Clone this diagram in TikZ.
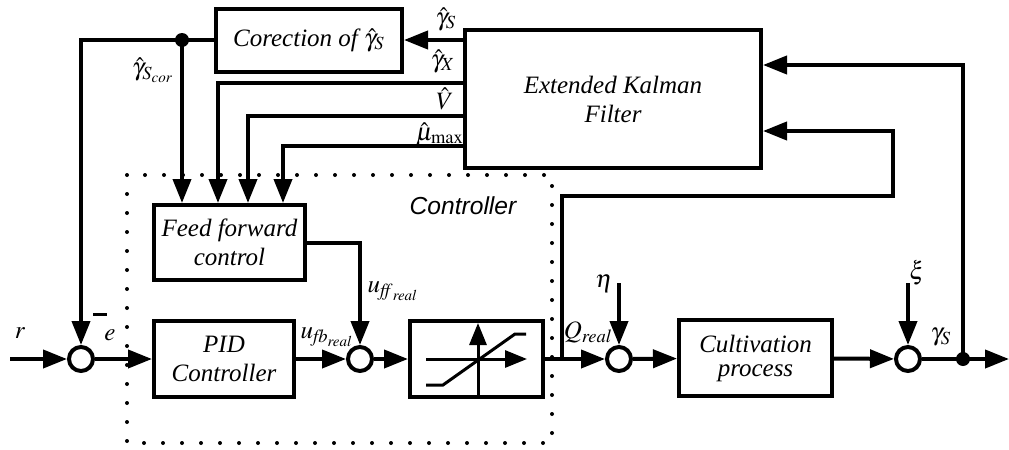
\documentclass[tikz,border=0pt]{standalone}
\usepackage{mathptmx}
\usepackage{fontspec}
\setmainfont{Liberation Serif}
\newfontfamily\arialfont{Liberation Sans}
\usetikzlibrary{arrows.meta}
\begin{document}
\begin{tikzpicture}[x=0.5pt,y=-0.5pt,
  line width=2pt,
  blk/.style={draw, line width=2pt, font=\itshape\fontsize{12.5}{14.5}\selectfont, align=center, inner sep=0pt},
  sumc/.style={draw, circle, line width=2pt, minimum size=12pt, inner sep=0pt},
  dotn/.style={circle, fill, minimum size=7pt, inner sep=0pt},
  arr/.style={-{Triangle[length=12pt,width=9pt]}},
  sarr/.style={-{Triangle[length=11pt,width=8.5pt]}},
  lbl/.style={font=\fontsize{12.5}{14}\selectfont, inner sep=0pt}]
\useasboundingbox (0,0) rectangle (1009,450);

% dotted controller frame
\draw[line width=2pt, line cap=round, dash pattern=on 0pt off 9.5pt] (127,175) rectangle (552,443);
\node[font=\arialfont\itshape\fontsize{12.3}{14}\selectfont, inner sep=0pt] (ctl) at (463,206) {Controller};

% blocks
\node[blk, minimum width=93pt, minimum height=31.5pt] (corr) at (309,40) {Corection of $\hat{\gamma}_S$};
\node[blk, minimum width=148pt, minimum height=69pt] (ekf) at (613,99) {Extended Kalman\\Filter};
\node[blk, minimum width=75.5pt, minimum height=37.5pt] (ff) at (229.5,242.5) {Feed forward\\control};
\node[blk, minimum width=70pt, minimum height=38pt] (pid) at (224,359) {PID\\Controller};
\node[blk, minimum width=66.5pt, minimum height=38pt] (sat) at (476.5,359) {};
\node[blk, minimum width=76.5pt, minimum height=38pt, font=\itshape\fontsize{12.5}{12}\selectfont] (cult) at (755.5,358) {Cultivation\\process};

% summing junctions and dots
\node[sumc] (sum1) at (81,359) {};
\node[sumc] (sum2) at (360,359) {};
\node[sumc] (sum3) at (619,359) {};
\node[sumc] (sum4) at (908,359) {};
\node[dotn] (d1) at (182,40) {};
\node[dotn] (d2) at (963,359) {};

% helper coordinates
\coordinate (in) at (10,359);
\coordinate (out) at (1009,359);
\coordinate (br) at (562,359);
\coordinate (c7) at (893,196);
\coordinate (eta) at (619,283);
\coordinate (xi) at (908,283);
\coordinate (y40) at (0,40);
\coordinate (y65) at (0,65);
\coordinate (y83) at (0,83);
\coordinate (y116) at (0,116);
\coordinate (y131) at (0,131);
\coordinate (y146) at (0,146);
\coordinate (f2) at (218,0);
\coordinate (f3) at (248,0);
\coordinate (f4) at (283,0);

% saturation icon
\draw[line width=1.5pt, sarr] (478,398) -- (478,323);
\draw[line width=1.5pt, sarr] (426,359) -- (527,359);
\draw[line width=1.5pt] (426,385) -- (443,385) -- (515,334) -- (526,334);

% main path
\draw[arr] (in) -- (sum1);
\draw[arr] (sum1) -- (pid);
\draw[arr] (pid) -- (sum2);
\draw[arr] (ff.east) -| (sum2);
\draw[arr] (sum2) -- (sat);
\draw[arr] (sat) -- (sum3);
\draw[arr] (br) |- (c7) |- (ekf.east |- y131);
\draw[arr] (eta) -- (sum3);
\draw[arr] (sum3) -- (cult);
\draw[arr] (cult) -- (sum4);
\draw[arr] (xi) -- (sum4);
\draw[arr] (sum4) -- (out);
\draw[arr] (d2.center) |- (ekf.east |- y65);

% estimator outputs
\draw[arr] (ekf.west |- y40) -- (corr.east);
\draw[arr] (corr.west) -- (d1.center) -| (sum1);
\draw[arr] (d1.center) -- (d1 |- ff.north);
\draw[arr] (ekf.west |- y83) -| (f2 |- ff.north);
\draw[arr] (ekf.west |- y116) -| (f3 |- ff.north);
\draw[arr] (ekf.west |- y146) -| (f4 |- ff.north);

% labels
\node[lbl] (lr) at (20,333) {$r$};
\node[lbl] (le) at (110,335) {$e$};
\node[lbl] (lm) at (100,314) {\rule{7pt}{1.5pt}};
\node[lbl] (lufb) at (327,337) {$u_{\mathit{fb}_{\mathit{real}}}$};
\node[lbl] (luff) at (393,291) {$u_{\mathit{ff}_{\mathit{real}}}$};
\node[lbl] (lq) at (588,332) {$Q_{\mathit{real}}$};
\node[lbl] (leta) at (604,284) {$\eta$};
\node[lbl] (lxi) at (917,273) {$\xi$};
\node[lbl] (lgs) at (941,337) {$\gamma_S$};
\node[lbl] (lhs) at (446,19) {$\hat{\gamma}_S$};
\node[lbl] (lhx) at (443,61) {$\hat{\gamma}_X$};
\node[lbl] (lhv) at (445,99) {$\hat{V}$};
\node[lbl] (lhm) at (440,134) {$\hat{\mu}_{\max}$};
\node[lbl] (lhc) at (153,70) {$\hat{\gamma}_{S_{\mathit{cor}}}$};
\end{tikzpicture}
\end{document}
